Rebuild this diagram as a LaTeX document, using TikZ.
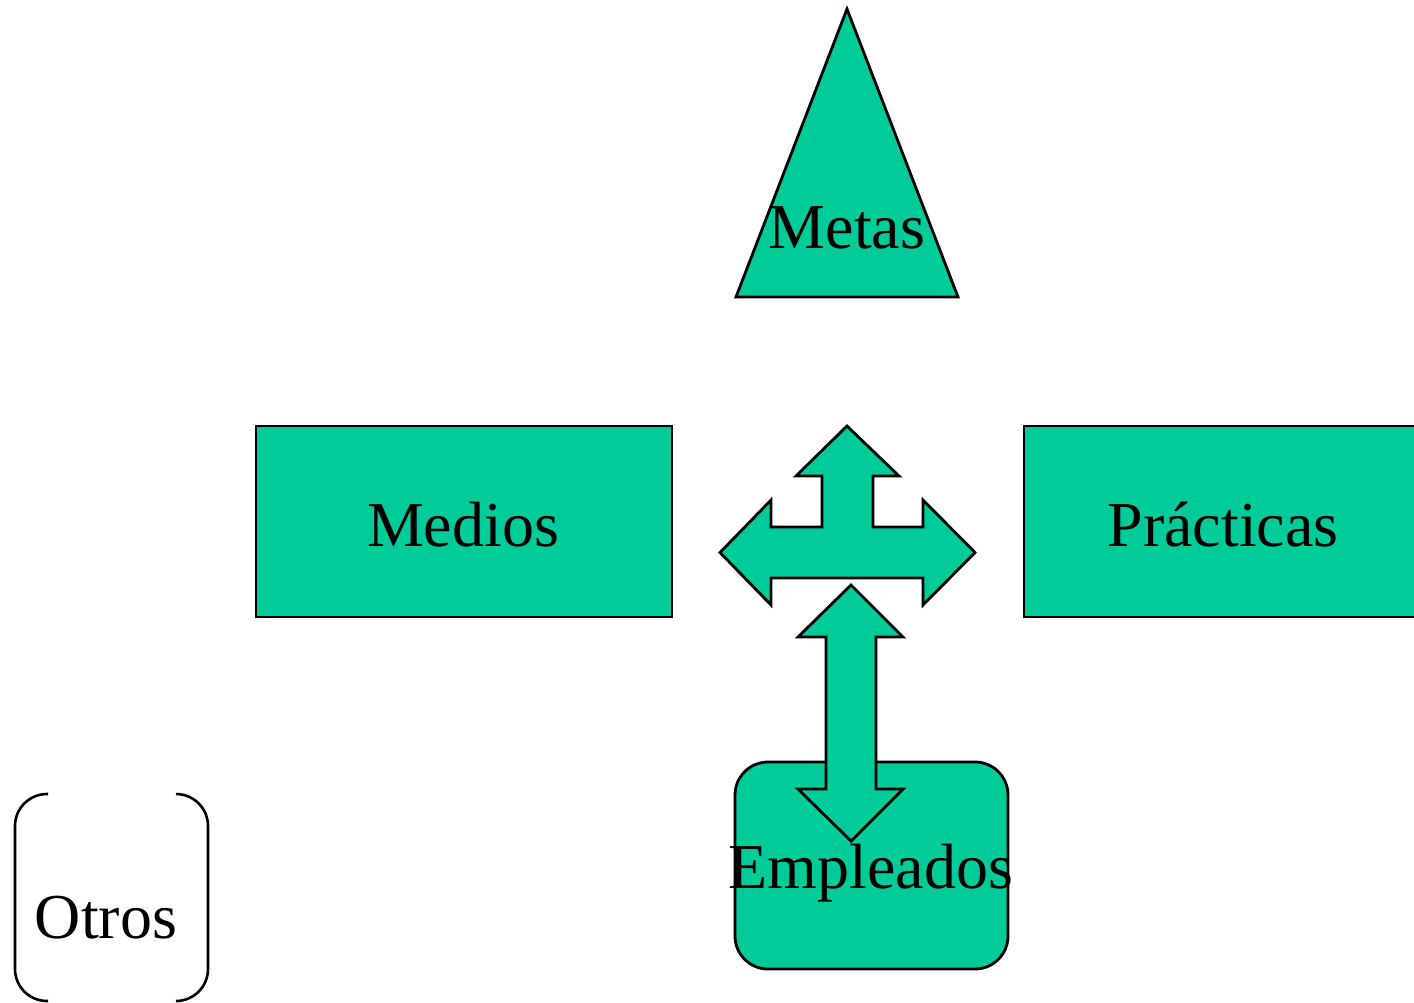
\documentclass[tikz,border=0pt]{standalone}
\usepackage{fontspec}
\setmainfont{Liberation Serif}
\definecolor{blockgreen}{RGB}{0,204,153}
\begin{document}
\begin{tikzpicture}[x=0.5pt,y=-0.5pt,
  block/.style={draw=black,fill=blockgreen,line width=1.4pt,line join=miter},
  bracket/.style={draw=black,line width=1.3pt,rounded corners=16pt},
  lbl/.style={font=\fontsize{32}{38}\selectfont,inner sep=0pt,anchor=base}]
\useasboundingbox (0,0) rectangle (1414,1002);
\clip (0,0) rectangle (1414,1002);

% goal triangle
\path[block] (847,9) -- (958,297) -- (736,297) -- cycle;
\node[lbl] (metas) at (847,248) {Metas};

% side boxes
\path[block] (256,426) rectangle (672,617);
\node[lbl] (medios) at (463,546) {Medios};
\path[block] (1024,426) rectangle (1430,617);
\node[lbl] (practicas) at (1223,546) {Prácticas};

% three-way arrow (up, left, right)
\path[block] (847,426) -- (899,476) -- (873,476) -- (873,527) -- (923,527)
  -- (923,500) -- (975,552.5) -- (923,605) -- (923,578) -- (771,578)
  -- (771,605) -- (720,552.5) -- (771,500) -- (771,527) -- (822,527)
  -- (822,476) -- (796,476) -- cycle;

% employees box
\path[block,rounded corners=16.5pt] (735,762) rectangle (1008,969);

% vertical double arrow
\path[block] (851,585) -- (903,637) -- (876,637) -- (876,789) -- (903,789)
  -- (851,841) -- (798,789) -- (826,789) -- (826,637) -- (798,637) -- cycle;

\node[lbl] (empleados) at (871,888) {Empleados};

% others, between round brackets
\draw[bracket] (48,794) -- (15,794) -- (15,1001) -- (48,1001);
\draw[bracket] (176,794) -- (208,794) -- (208,1001) -- (176,1001);
\node[lbl] (otros) at (106,938) {Otros};
\end{tikzpicture}
\end{document}
